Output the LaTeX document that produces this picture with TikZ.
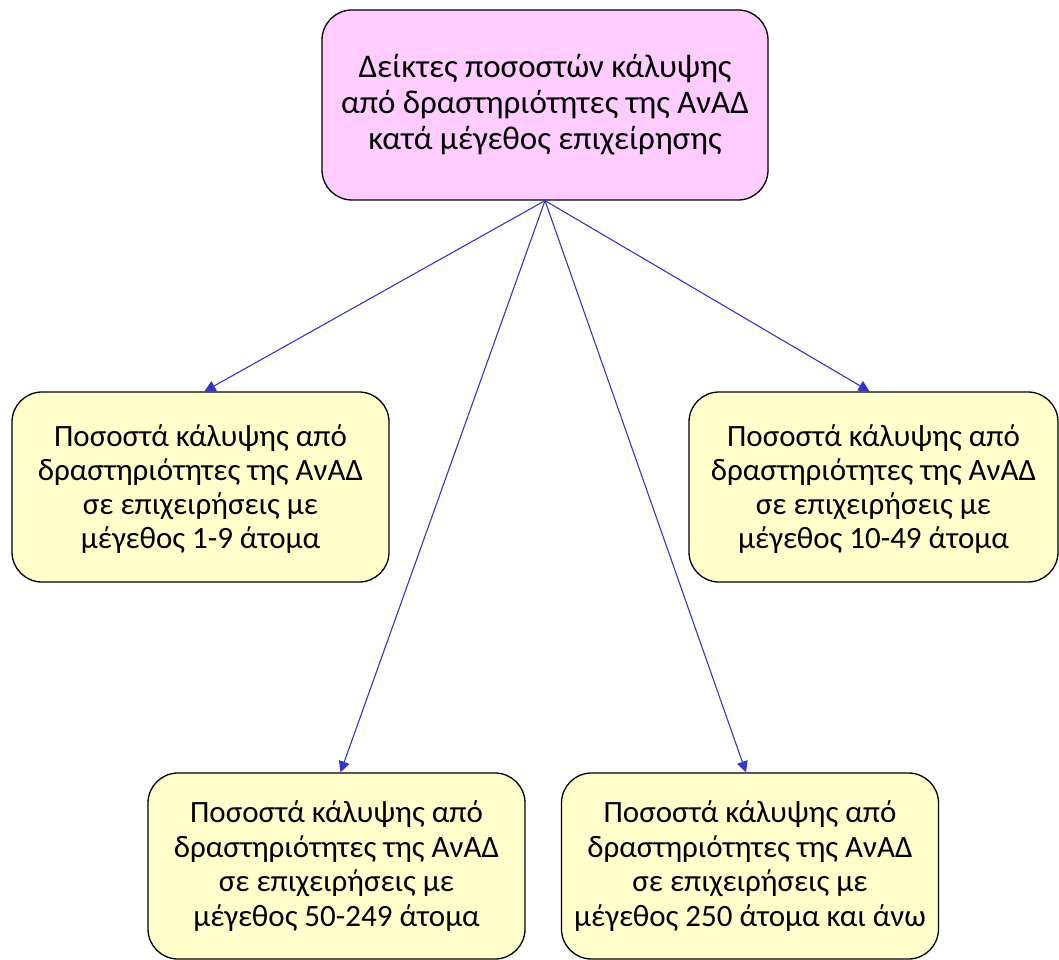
\documentclass[tikz,border=0pt]{standalone}
\usepackage{fontspec}
\setmainfont{Carlito}
\usetikzlibrary{arrows.meta}
\definecolor{pinkfill}{HTML}{FFCCFF}
\definecolor{yellowfill}{HTML}{FFFFCC}
\definecolor{arrowblue}{HTML}{3535CC}
\tikzset{
  box/.style={draw=black, line width=1.3pt, rounded corners=30pt, align=center, inner sep=0pt},
  topbox/.style={box, fill=pinkfill, minimum width=446pt, minimum height=190pt,
     font=\fontsize{33}{36}\selectfont},
  ybox/.style={box, fill=yellowfill, minimum width=377pt, minimum height=190pt,
     font=\fontsize{31}{34}\selectfont},
  cbox/.style={box, fill=yellowfill, minimum width=377pt, minimum height=186pt,
     font=\fontsize{31}{34.5}\selectfont},
  link/.style={draw=arrowblue, line width=1.1pt, -{Triangle[length=11pt,width=11pt]}}
}
\begin{document}
\begin{tikzpicture}[x=1pt,y=-1pt]
\useasboundingbox (0,0) rectangle (1059,960);
\clip (0,0) rectangle (1059,960);
\node[topbox] (top) at (545,105) {Δείκτες ποσοστών κάλυψης\\από δραστηριότητες της ΑνΑΔ\\κατά μέγεθος επιχείρησης};
\node[ybox, text depth=-6pt] (a) at (200.5,487) {Ποσοστά κάλυψης από\\δραστηριότητες της ΑνΑΔ\\σε επιχειρήσεις με\\μέγεθος 1-9 άτομα};
\node[ybox, minimum width=369pt, text depth=-6pt] (b) at (873.5,487) {Ποσοστά κάλυψης από\\δραστηριότητες της ΑνΑΔ\\σε επιχειρήσεις με\\μέγεθος 10-49 άτομα};
\node[cbox] (c) at (336.5,866) {Ποσοστά κάλυψης από\\δραστηριότητες της ΑνΑΔ\\σε επιχειρήσεις με\\μέγεθος 50-249 άτομα};
\node[cbox] (d) at (750,866) {Ποσοστά κάλυψης από\\δραστηριότητες της ΑνΑΔ\\σε επιχειρήσεις με\\μέγεθος 250 άτομα και άνω};
\draw[link] (top.south) -- ([xshift=4pt]a.north);
\draw[link] (top.south) -- ([xshift=-4pt]b.north);
\draw[link] (top.south) -- ([xshift=4pt]c.north);
\draw[link] (top.south) -- ([xshift=-4pt]d.north);
\end{tikzpicture}
\end{document}
